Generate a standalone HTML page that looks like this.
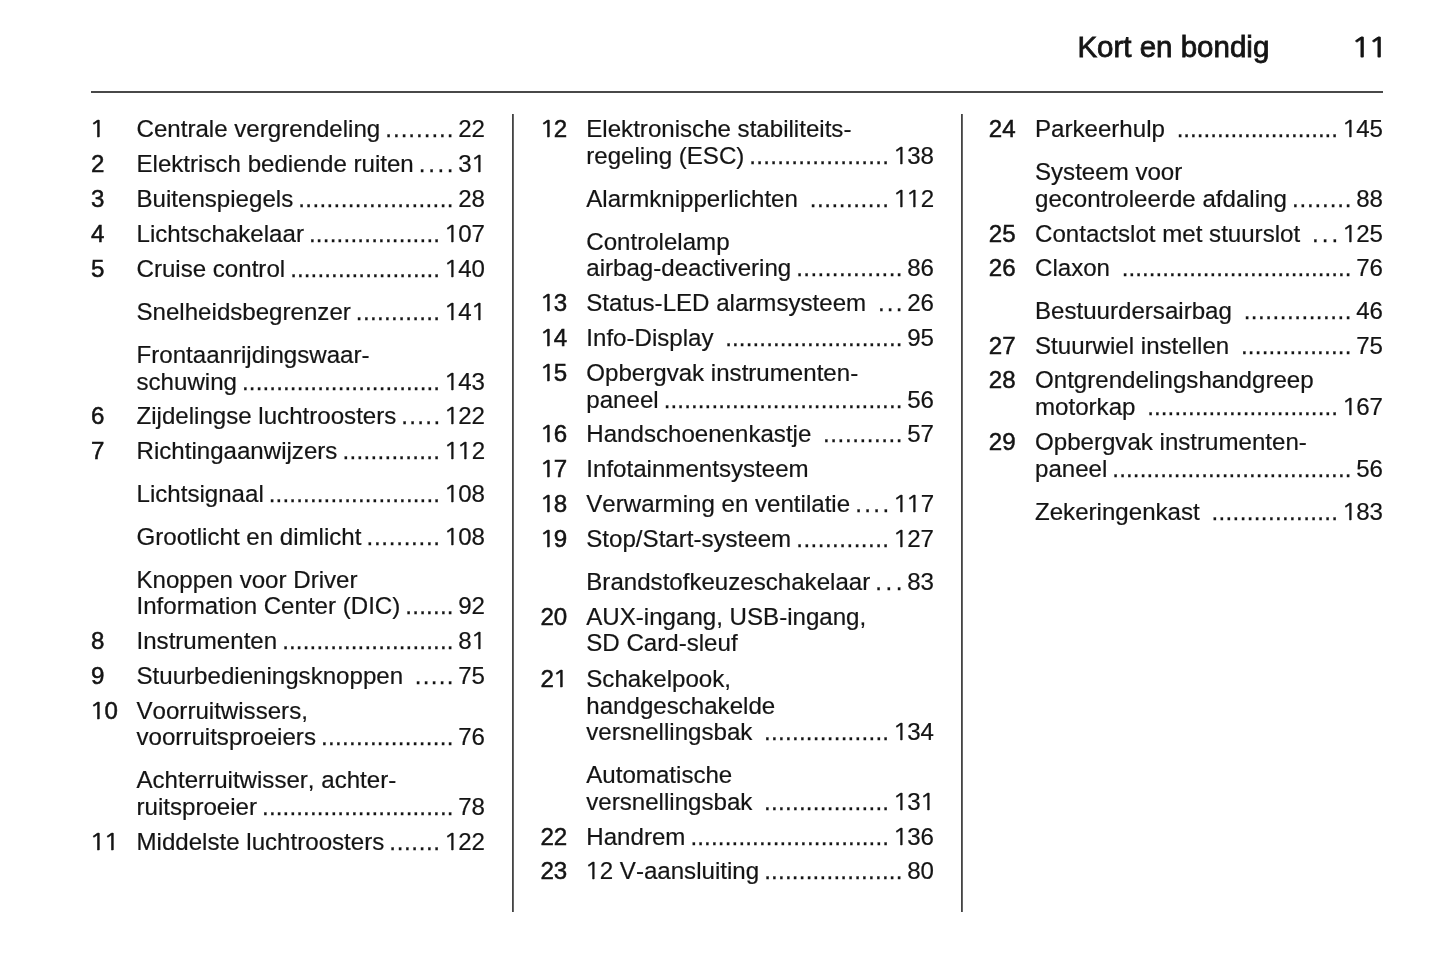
<!DOCTYPE html>
<html lang="nl"><head><meta charset="utf-8"><title>Kort en bondig</title>
<style>
html,body{margin:0;padding:0;background:#fff}
body{width:1445px;height:965px;position:relative;overflow:hidden;font-family:"Liberation Sans",Arial,Helvetica,sans-serif;color:#141414;font-size:24.1px;line-height:27.0px}
span{position:absolute;white-space:pre;font-kerning:none;-webkit-text-stroke:0.2px #141414}
.n{-webkit-text-stroke:0.5px #141414}
.d{-webkit-text-stroke:0.25px #141414}
.h{font-size:29.5px;line-height:34px;-webkit-text-stroke:0.8px #141414;transform:none}
.o{font-family:"NanumGothic","Liberation Sans",sans-serif;font-weight:normal;font-size:0.94em;display:inline-block;line-height:0;height:0;vertical-align:baseline;margin-left:0.008em;margin-right:-0.022em;transform:scaleX(1.2);transform-origin:61% 0;-webkit-text-stroke-width:0.3px}
.n .o{-webkit-text-stroke-width:0.45px}
.h .o{-webkit-text-stroke-width:0.8px}
.r{position:absolute;background:#444}
</style></head><body>
<span class="h" style="left:1077.4px;top:30.4px">Kort en bondig</span>
<span class="h" style="left:1353.0px;top:30.4px"><b class="o">1</b><b class="o">1</b></span>
<div class="r" style="left:91px;top:91px;width:1292px;height:2px;background:#484848"></div>
<div class="r" style="left:512px;top:114px;width:2px;height:798px;background:linear-gradient(90deg,#444 50%,#666 50%)"></div>
<div class="r" style="left:961px;top:114px;width:2px;height:798px;background:linear-gradient(90deg,#444 50%,#666 50%)"></div>
<span class="n" style="left:91.0px;top:115.00px"><b class="o">1</b></span>
<span class="t" style="left:136.5px;top:115.00px">Centrale vergrendeling</span>
<span class="t" style="left:458.19px;top:115.00px">22</span>
<span class="t d" style="left:385.33px;top:115.00px;letter-spacing:0.988px">.........</span>
<span class="n" style="left:91.0px;top:150.00px">2</span>
<span class="t" style="left:136.5px;top:150.00px">Elektrisch bediende ruiten</span>
<span class="t" style="left:458.19px;top:150.00px">3<b class="o">1</b></span>
<span class="t d" style="left:418.82px;top:150.00px;letter-spacing:2.630px">....</span>
<span class="n" style="left:91.0px;top:185.00px">3</span>
<span class="t" style="left:136.5px;top:185.00px">Buitenspiegels</span>
<span class="t" style="left:458.19px;top:185.00px">28</span>
<span class="t d" style="left:298.26px;top:185.00px;letter-spacing:0.377px">......................</span>
<span class="n" style="left:91.0px;top:220.00px">4</span>
<span class="t" style="left:136.5px;top:220.00px">Lichtschakelaar</span>
<span class="t" style="left:444.79px;top:220.00px"><b class="o">1</b>07</span>
<span class="t d" style="left:308.95px;top:220.00px;letter-spacing:0.217px">...................</span>
<span class="n" style="left:91.0px;top:255.00px">5</span>
<span class="t" style="left:136.5px;top:255.00px">Cruise control</span>
<span class="t" style="left:444.79px;top:255.00px"><b class="o">1</b>40</span>
<span class="t d" style="left:290.17px;top:255.00px;letter-spacing:0.124px">......................</span>
<span class="t" style="left:136.5px;top:298.00px">Snelheidsbegrenzer</span>
<span class="t" style="left:444.79px;top:298.00px"><b class="o">1</b>4<b class="o">1</b></span>
<span class="t d" style="left:355.87px;top:298.00px;letter-spacing:0.351px">............</span>
<span class="t" style="left:136.5px;top:341.00px">Frontaanrijdingswaar-</span>
<span class="t" style="left:136.5px;top:368.00px">schuwing</span>
<span class="t" style="left:444.79px;top:368.00px"><b class="o">1</b>43</span>
<span class="t d" style="left:241.97px;top:368.00px;letter-spacing:0.140px">.............................</span>
<span class="n" style="left:91.0px;top:402.00px">6</span>
<span class="t" style="left:136.5px;top:402.00px">Zijdelingse luchtroosters</span>
<span class="t" style="left:444.79px;top:402.00px"><b class="o">1</b>22</span>
<span class="t d" style="left:401.37px;top:402.00px;letter-spacing:1.311px">.....</span>
<span class="n" style="left:91.0px;top:437.00px">7</span>
<span class="t" style="left:136.5px;top:437.00px">Richtingaanwijzers</span>
<span class="t" style="left:444.79px;top:437.00px"><b class="o">1</b><b class="o">1</b>2</span>
<span class="t d" style="left:342.42px;top:437.00px;letter-spacing:0.302px">..............</span>
<span class="t" style="left:136.5px;top:480.00px">Lichtsignaal</span>
<span class="t" style="left:444.79px;top:480.00px"><b class="o">1</b>08</span>
<span class="t d" style="left:268.78px;top:480.00px;letter-spacing:0.163px">.........................</span>
<span class="t" style="left:136.5px;top:523.00px">Grootlicht en dimlicht</span>
<span class="t" style="left:444.79px;top:523.00px"><b class="o">1</b>08</span>
<span class="t d" style="left:366.52px;top:523.00px;letter-spacing:0.734px">..........</span>
<span class="t" style="left:136.5px;top:566.00px">Knoppen voor Driver</span>
<span class="t" style="left:136.5px;top:592.00px">Information Center (DIC)</span>
<span class="t" style="left:458.19px;top:592.00px">92</span>
<span class="t d" style="left:405.35px;top:592.00px;letter-spacing:0.213px">.......</span>
<span class="n" style="left:91.0px;top:627.00px">8</span>
<span class="t" style="left:136.5px;top:627.00px">Instrumenten</span>
<span class="t" style="left:458.19px;top:627.00px">8<b class="o">1</b></span>
<span class="t d" style="left:282.16px;top:627.00px;letter-spacing:0.164px">.........................</span>
<span class="n" style="left:91.0px;top:662.00px">9</span>
<span class="t" style="left:136.5px;top:662.00px">Stuurbedieningsknoppen</span>
<span class="t" style="left:458.19px;top:662.00px">75</span>
<span class="t d" style="left:414.86px;top:662.00px;letter-spacing:1.290px">.....</span>
<span class="n" style="left:91.0px;top:697.00px"><b class="o">1</b>0</span>
<span class="t" style="left:136.5px;top:697.00px">Voorruitwissers,</span>
<span class="t" style="left:136.5px;top:723.00px">voorruitsproeiers</span>
<span class="t" style="left:458.19px;top:723.00px">76</span>
<span class="t d" style="left:320.98px;top:723.00px;letter-spacing:0.294px">...................</span>
<span class="t" style="left:136.5px;top:766.00px">Achterruitwisser, achter-</span>
<span class="t" style="left:136.5px;top:793.00px">ruitsproeier</span>
<span class="t" style="left:458.19px;top:793.00px">78</span>
<span class="t d" style="left:262.05px;top:793.00px;letter-spacing:0.146px">............................</span>
<span class="n" style="left:91.0px;top:828.00px"><b class="o">1</b><b class="o">1</b></span>
<span class="t" style="left:136.5px;top:828.00px">Middelste luchtroosters</span>
<span class="t" style="left:444.79px;top:828.00px"><b class="o">1</b>22</span>
<span class="t d" style="left:389.31px;top:828.00px;letter-spacing:0.652px">.......</span>
<span class="n" style="left:540.4px;top:115.00px"><b class="o">1</b>2</span>
<span class="t" style="left:586.3px;top:115.00px">Elektronische stabiliteits-</span>
<span class="t" style="left:586.3px;top:142.00px">regeling (ESC)</span>
<span class="t" style="left:893.79px;top:142.00px"><b class="o">1</b>38</span>
<span class="t d" style="left:749.35px;top:142.00px;letter-spacing:0.306px">....................</span>
<span class="t" style="left:586.3px;top:185.00px">Alarmknipperlichten</span>
<span class="t" style="left:893.79px;top:185.00px"><b class="o">1</b><b class="o">1</b>2</span>
<span class="t d" style="left:809.64px;top:185.00px;letter-spacing:0.580px">...........</span>
<span class="t" style="left:586.3px;top:228.00px">Controlelamp</span>
<span class="t" style="left:586.3px;top:254.00px">airbag-deactivering</span>
<span class="t" style="left:907.19px;top:254.00px">86</span>
<span class="t d" style="left:796.27px;top:254.00px;letter-spacing:0.413px">...............</span>
<span class="n" style="left:540.4px;top:289.00px"><b class="o">1</b>3</span>
<span class="t" style="left:586.3px;top:289.00px">Status-LED alarmsysteem</span>
<span class="t" style="left:907.19px;top:289.00px">26</span>
<span class="t d" style="left:877.91px;top:289.00px;letter-spacing:2.246px">...</span>
<span class="n" style="left:540.4px;top:324.00px"><b class="o">1</b>4</span>
<span class="t" style="left:586.3px;top:324.00px">Info-Display</span>
<span class="t" style="left:907.19px;top:324.00px">95</span>
<span class="t d" style="left:725.24px;top:324.00px;letter-spacing:0.126px">..........................</span>
<span class="n" style="left:540.4px;top:359.00px"><b class="o">1</b>5</span>
<span class="t" style="left:586.3px;top:359.00px">Opbergvak instrumenten-</span>
<span class="t" style="left:586.3px;top:386.00px">paneel</span>
<span class="t" style="left:907.19px;top:386.00px">56</span>
<span class="t d" style="left:663.67px;top:386.00px;letter-spacing:0.131px">...................................</span>
<span class="n" style="left:540.4px;top:420.00px"><b class="o">1</b>6</span>
<span class="t" style="left:586.3px;top:420.00px">Handschoenenkastje</span>
<span class="t" style="left:907.19px;top:420.00px">57</span>
<span class="t d" style="left:823.09px;top:420.00px;letter-spacing:0.575px">...........</span>
<span class="n" style="left:540.4px;top:455.00px"><b class="o">1</b>7</span>
<span class="t" style="left:586.3px;top:455.00px">Infotainmentsysteem</span>
<span class="n" style="left:540.4px;top:490.00px"><b class="o">1</b>8</span>
<span class="t" style="left:586.3px;top:490.00px">Verwarming en ventilatie</span>
<span class="t" style="left:893.79px;top:490.00px"><b class="o">1</b><b class="o">1</b>7</span>
<span class="t d" style="left:855.19px;top:490.00px;letter-spacing:2.372px">....</span>
<span class="n" style="left:540.4px;top:525.00px"><b class="o">1</b>9</span>
<span class="t" style="left:586.3px;top:525.00px">Stop/Start-systeem</span>
<span class="t" style="left:893.79px;top:525.00px"><b class="o">1</b>27</span>
<span class="t d" style="left:796.22px;top:525.00px;letter-spacing:0.485px">.............</span>
<span class="t" style="left:586.3px;top:568.00px">Brandstofkeuzeschakelaar</span>
<span class="t" style="left:907.19px;top:568.00px">83</span>
<span class="t d" style="left:875.32px;top:568.00px;letter-spacing:3.545px">...</span>
<span class="n" style="left:540.4px;top:603.00px">20</span>
<span class="t" style="left:586.3px;top:603.00px">AUX-ingang, USB-ingang,</span>
<span class="t" style="left:586.3px;top:629.00px">SD Card-sleuf</span>
<span class="n" style="left:540.4px;top:665.00px">2<b class="o">1</b></span>
<span class="t" style="left:586.3px;top:665.00px">Schakelpook,</span>
<span class="t" style="left:586.3px;top:692.00px">handgeschakelde</span>
<span class="t" style="left:586.3px;top:718.00px">versnellingsbak</span>
<span class="t" style="left:893.79px;top:718.00px"><b class="o">1</b>34</span>
<span class="t d" style="left:764.11px;top:718.00px;letter-spacing:0.262px">..................</span>
<span class="t" style="left:586.3px;top:761.00px">Automatische</span>
<span class="t" style="left:586.3px;top:788.00px">versnellingsbak</span>
<span class="t" style="left:893.79px;top:788.00px"><b class="o">1</b>3<b class="o">1</b></span>
<span class="t d" style="left:764.11px;top:788.00px;letter-spacing:0.262px">..................</span>
<span class="n" style="left:540.4px;top:823.00px">22</span>
<span class="t" style="left:586.3px;top:823.00px">Handrem</span>
<span class="t" style="left:893.79px;top:823.00px"><b class="o">1</b>36</span>
<span class="t d" style="left:690.42px;top:823.00px;letter-spacing:0.160px">.............................</span>
<span class="n" style="left:540.4px;top:857.00px">23</span>
<span class="t" style="left:586.3px;top:857.00px"><b class="o">1</b>2 V-aansluiting</span>
<span class="t" style="left:907.19px;top:857.00px">80</span>
<span class="t d" style="left:764.13px;top:857.00px;letter-spacing:0.234px">....................</span>
<span class="n" style="left:988.8px;top:115.00px">24</span>
<span class="t" style="left:1035.0px;top:115.00px">Parkeerhulp</span>
<span class="t" style="left:1342.79px;top:115.00px"><b class="o">1</b>45</span>
<span class="t d" style="left:1176.65px;top:115.00px;letter-spacing:0.032px">........................</span>
<span class="t" style="left:1035.0px;top:158.00px">Systeem voor</span>
<span class="t" style="left:1035.0px;top:185.00px">gecontroleerde afdaling</span>
<span class="t" style="left:1356.19px;top:185.00px">88</span>
<span class="t d" style="left:1291.90px;top:185.00px;letter-spacing:0.860px">........</span>
<span class="n" style="left:988.8px;top:220.00px">25</span>
<span class="t" style="left:1035.0px;top:220.00px">Contactslot met stuurslot</span>
<span class="t" style="left:1342.79px;top:220.00px"><b class="o">1</b>25</span>
<span class="t d" style="left:1311.91px;top:220.00px;letter-spacing:3.048px">...</span>
<span class="n" style="left:988.8px;top:254.00px">26</span>
<span class="t" style="left:1035.0px;top:254.00px">Claxon</span>
<span class="t" style="left:1356.19px;top:254.00px">76</span>
<span class="t d" style="left:1121.71px;top:254.00px;letter-spacing:0.064px">..................................</span>
<span class="t" style="left:1035.0px;top:297.00px">Bestuurdersairbag</span>
<span class="t" style="left:1356.19px;top:297.00px">46</span>
<span class="t d" style="left:1243.63px;top:297.00px;letter-spacing:0.530px">...............</span>
<span class="n" style="left:988.8px;top:332.00px">27</span>
<span class="t" style="left:1035.0px;top:332.00px">Stuurwiel instellen</span>
<span class="t" style="left:1356.19px;top:332.00px">75</span>
<span class="t d" style="left:1240.93px;top:332.00px;letter-spacing:0.228px">................</span>
<span class="n" style="left:988.8px;top:366.00px">28</span>
<span class="t" style="left:1035.0px;top:366.00px">Ontgrendelingshandgreep</span>
<span class="t" style="left:1035.0px;top:393.00px">motorkap</span>
<span class="t" style="left:1342.79px;top:393.00px"><b class="o">1</b>67</span>
<span class="t d" style="left:1147.16px;top:393.00px;letter-spacing:0.127px">............................</span>
<span class="n" style="left:988.8px;top:428.00px">29</span>
<span class="t" style="left:1035.0px;top:428.00px">Opbergvak instrumenten-</span>
<span class="t" style="left:1035.0px;top:455.00px">paneel</span>
<span class="t" style="left:1356.19px;top:455.00px">56</span>
<span class="t d" style="left:1112.37px;top:455.00px;letter-spacing:0.140px">...................................</span>
<span class="t" style="left:1035.0px;top:498.00px">Zekeringenkast</span>
<span class="t" style="left:1342.79px;top:498.00px"><b class="o">1</b>83</span>
<span class="t d" style="left:1211.47px;top:498.00px;letter-spacing:0.358px">..................</span>
</body></html>
